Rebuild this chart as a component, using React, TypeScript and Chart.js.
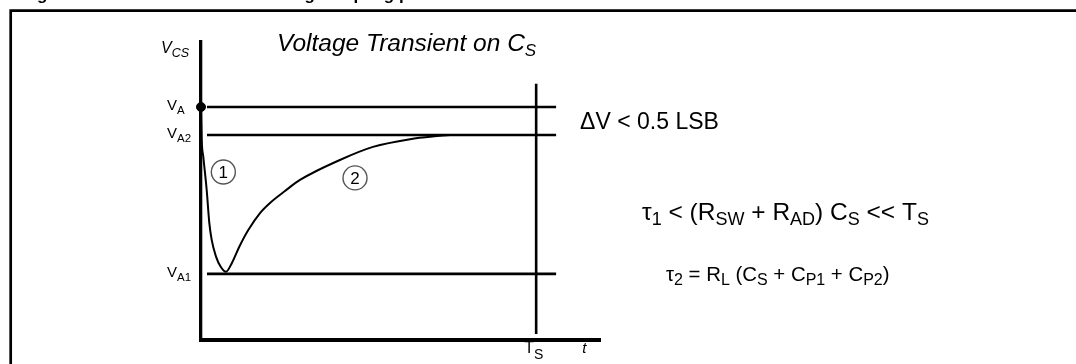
import React, { useEffect, useRef } from "react";
import { Chart, registerables } from "chart.js";

Chart.register(...registerables);

const FONT = '"Liberation Sans", Arial, Helvetica, sans-serif';

// ---- data (arbitrary units: time 0..100, voltage 0..100) ----
const timeRange = [0, 100];
const voltRange = [0, 100];
const levelNames = ["A", "A2", "A1"];
const levelValues = [78.2, 68.8, 22.2];
const levelFrom = 1.5;
const levelTo = 89;
const sampleTime = 84; // T_S
const sampleLineSpan = [2, 86];
const curveTime = [0, 0.18, 0.58, 1.43, 2.08, 2.68, 3.76, 4.94, 6.27, 7.69, 9.6, 11.85, 14.79, 17.29, 21.05, 24.8, 34.8, 43.1, 52.4, 59.9, 62.4];
const curveVolt = [78.2, 67.1, 61.5, 50.3, 39.3, 33.6, 28.0, 24.6, 22.9, 25.7, 31.3, 36.9, 42.6, 46.0, 50.0, 53.7, 60.4, 64.8, 67.4, 68.5, 68.8];
const phaseLabels = ["1", "2"];
const phaseTime = [5.6, 38.6];
const phaseVolt = [56.4, 54.4];

type Part = [string, boolean];

function rich(
  ctx: CanvasRenderingContext2D,
  x: number,
  y: number,
  parts: Part[],
  size: number,
  subSize: number,
  subDrop: number,
  style = "",
  align: "left" | "right" = "left"
) {
  const mainFont = `${style} ${size}px ${FONT}`;
  const subFont = `${style} ${subSize}px ${FONT}`;
  let w = 0;
  for (const [t, s] of parts) {
    ctx.font = s ? subFont : mainFont;
    w += ctx.measureText(t).width;
  }
  let cx = align === "right" ? x - w : x;
  for (const [t, s] of parts) {
    ctx.font = s ? subFont : mainFont;
    ctx.fillText(t, cx, s ? y + subDrop : y);
    cx += ctx.measureText(t).width;
  }
}

const annotPlugin = {
  id: "annot",
  beforeDraw(chart: any) {
    const ctx: CanvasRenderingContext2D = chart.ctx;
    ctx.save();
    ctx.fillStyle = "#fff";
    ctx.fillRect(0, 0, chart.width, chart.height);
    // frame
    ctx.strokeStyle = "#000";
    ctx.lineWidth = 2.7;
    ctx.beginPath();
    ctx.moveTo(10.7, chart.height + 5);
    ctx.lineTo(10.7, 10.7);
    ctx.lineTo(chart.width + 5, 10.7);
    ctx.stroke();
    // cut-off caption (only its lowest pixels are inside the picture)
    ctx.fillStyle = "#000";
    ctx.textBaseline = "alphabetic";
    ctx.font = `bold 17px ${FONT}`;
    ctx.fillText("Figure 11. Transient behavior during sampling phase", 22, 0.3);
    ctx.restore();
  },
  afterDraw(chart: any) {
    const ctx: CanvasRenderingContext2D = chart.ctx;
    const xs = chart.scales.x;
    const ys = chart.scales.y;
    const area = chart.chartArea;
    ctx.save();
    ctx.fillStyle = "#000";
    ctx.textBaseline = "alphabetic";

    // level labels
    levelNames.forEach((n, i) => {
      const py = ys.getPixelForValue(levelValues[i]);
      rich(ctx, area.left - 34, py + 3.5, [["V", false], [n, true]], 15, 11.5, 4);
    });

    // axis titles
    rich(ctx, area.left - 40, area.top + 11, [["V", false], ["CS", true]], 16, 12.5, 4, "italic");
    const tsX = xs.getPixelForValue(sampleTime);
    rich(ctx, tsX - 12, area.bottom + 13, [["T", false], ["S", true]], 16, 14, 6);
    ctx.font = `italic 15px ${FONT}`;
    ctx.fillText("t", tsX + 46, area.bottom + 13);

    // title
    rich(ctx, 277, 51, [["Voltage Transient on C", false], ["S", true]], 24.5, 17, 5, "italic");

    // delta V
    const yA = ys.getPixelForValue(levelValues[0]);
    const yA2 = ys.getPixelForValue(levelValues[1]);
    ctx.font = `23px ${FONT}`;
    ctx.fillText("\u0394V < 0.5 LSB", xs.getPixelForValue(levelTo) + 24, (yA + yA2) / 2 + 8);

    // formulas
    rich(
      ctx,
      642,
      220,
      [["\u03C4", false], ["1", true], [" < (R", false], ["SW", true], [" + R", false], ["AD", true], [") C", false], ["S", true], [" << T", false], ["S", true]],
      24.5,
      18,
      5
    );
    rich(
      ctx,
      666,
      281,
      [["\u03C4", false], ["2", true], [" = R", false], ["L", true], [" (C", false], ["S", true], [" + C", false], ["P1", true], [" + C", false], ["P2", true], [")", false]],
      20.4,
      16,
      4
    );

    // circled phase markers
    phaseLabels.forEach((lab, i) => {
      const cx = xs.getPixelForValue(phaseTime[i]);
      const cy = ys.getPixelForValue(phaseVolt[i]);
      ctx.strokeStyle = "#555";
      ctx.lineWidth = 1.4;
      ctx.beginPath();
      ctx.arc(cx, cy, 12, 0, Math.PI * 2);
      ctx.stroke();
      ctx.font = `17px ${FONT}`;
      ctx.textAlign = "center";
      ctx.textBaseline = "middle";
      ctx.fillText(lab, cx, cy + 1);
      ctx.textAlign = "left";
      ctx.textBaseline = "alphabetic";
    });
    ctx.restore();
  },
};

export default function App() {
  const ref = useRef<HTMLCanvasElement | null>(null);
  useEffect(() => {
    if (!ref.current) return;
    const levelSets = levelValues.map((v) => ({
      data: [
        { x: levelFrom, y: v },
        { x: levelTo, y: v },
      ],
      borderColor: "#000",
      borderWidth: 2.6,
      pointRadius: 0,
      showLine: true,
      clip: false as const,
    }));
    const chart = new Chart(ref.current, {
      type: "scatter",
      data: {
        datasets: [
          ...levelSets,
          {
            data: [
              { x: sampleTime, y: sampleLineSpan[0] },
              { x: sampleTime, y: sampleLineSpan[1] },
            ],
            borderColor: "#000",
            borderWidth: 2.6,
            pointRadius: 0,
            showLine: true,
            clip: false as const,
          },
          {
            data: curveTime.map((t, i) => ({ x: t, y: curveVolt[i] })),
            borderColor: "#000",
            borderWidth: 2,
            pointRadius: 0,
            showLine: true,
            cubicInterpolationMode: "monotone",
            clip: false as const,
          },
          {
            data: [{ x: curveTime[0], y: curveVolt[0] }],
            backgroundColor: "#000",
            borderColor: "#000",
            pointRadius: 4.5,
            showLine: false,
            clip: false as const,
          },
        ],
      },
      options: {
        animation: false,
        responsive: false,
        devicePixelRatio: 1,
        layout: { padding: { left: 201, top: 42, right: 476, bottom: 24 } },
        plugins: { legend: { display: false }, tooltip: { enabled: false } },
        scales: {
          x: {
            type: "linear",
            min: timeRange[0],
            max: timeRange[1],
            grid: { display: false, drawTicks: false },
            ticks: { display: false },
            border: { display: true, color: "#000", width: 4 },
          },
          y: {
            type: "linear",
            min: voltRange[0],
            max: voltRange[1],
            grid: { display: false, drawTicks: false },
            ticks: { display: false },
            border: { display: true, color: "#000", width: 3.3 },
          },
        },
      },
      plugins: [annotPlugin],
    } as any);
    return () => chart.destroy();
  }, []);
  return (
    <div style={{ position: "fixed", left: 0, top: 0, width: 1076, height: 364, background: "#fff" }}>
      <canvas ref={ref} width={1076} height={364} style={{ display: "block" }} />
    </div>
  );
}
